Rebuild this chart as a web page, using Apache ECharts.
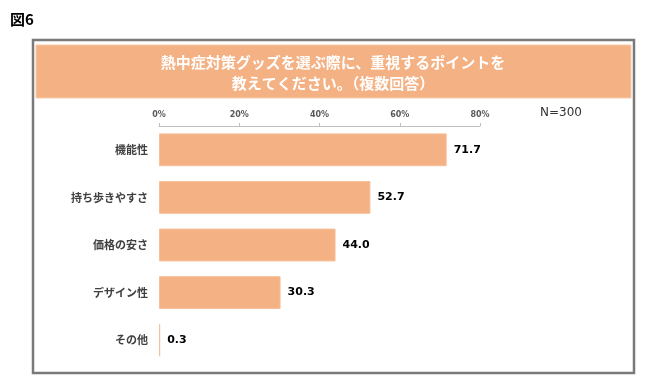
<!DOCTYPE html>
<html><head><meta charset="utf-8">
<script src="https://cdn.jsdelivr.net/npm/echarts@6/dist/echarts.min.js"></script>
<style>html,body{margin:0;padding:0;background:#fff}#c{width:665px;height:389px}</style>
</head><body><div id="c"></div>
<script>
var categories = ['機能性', '持ち歩きやすさ', '価格の安さ', 'デザイン性', 'その他'];
var values = [71.7, 52.7, 44.0, 30.3, 0.3];
var tickLabels = ['0%', '20%', '40%', '60%', '80%'];
var titleLines = ['熱中症対策グッズを選ぶ際に、重視するポイントを', '教えてください。（複数回答）'];
var figLabel = '図6';
var nLabel = 'N=300';

var FONT = '"Noto Sans CJK JP", "Noto Sans", sans-serif';
var NUMFONT = '"DejaVu Sans", Verdana, sans-serif';
var ORANGE = '#F4B183';
var chart = echarts.init(document.getElementById('c'), null, {renderer: 'canvas'});
chart.setOption({
  animation: false,
  backgroundColor: '#fff',
  graphic: [
    {type: 'rect', shape: {x: 33, y: 40, width: 601, height: 333}, style: {fill: 'none', stroke: '#7a7a7a', lineWidth: 2.5}, z: 1},
    {type: 'rect', shape: {x: 36, y: 45, width: 595, height: 53}, style: {fill: ORANGE, stroke: '#f8cba8', lineWidth: 1}, z: 1},
    {type: 'text', x: 333, y: 62, style: {text: titleLines[0], fill: '#fff', font: 'bold 15px ' + FONT, textAlign: 'center', textVerticalAlign: 'middle'}, z: 2},
    {type: 'text', x: 333, y: 83, style: {text: titleLines[1], fill: '#fff', font: 'bold 15px ' + FONT, textAlign: 'center', textVerticalAlign: 'middle'}, z: 2},
    {type: 'text', x: 10, y: 19, style: {text: figLabel, fill: '#000', font: 'bold 15px ' + FONT, textAlign: 'left', textVerticalAlign: 'middle'}, z: 2},
    {type: 'text', x: 540, y: 113, style: {text: nLabel, fill: '#333', font: '12px ' + NUMFONT, textAlign: 'left', textVerticalAlign: 'middle'}, z: 2}
  ],
  grid: {left: 159, right: 185, top: 126, bottom: 25, containLabel: false},
  xAxis: {
    type: 'value', position: 'top', min: 0, max: 80, interval: 20,
    axisLine: {show: true, lineStyle: {color: '#bfbfbf', width: 1}},
    axisTick: {show: true, length: 3, lineStyle: {color: '#bfbfbf'}},
    splitLine: {show: false},
    axisLabel: {
      margin: 7, color: '#595959', fontSize: 8, fontWeight: 'bold', fontFamily: NUMFONT,
      formatter: function (v) { return tickLabels[Math.round(v / 20)]; }
    }
  },
  yAxis: {
    type: 'category', data: categories, inverse: true,
    axisLine: {show: false}, axisTick: {show: false},
    axisLabel: {margin: 11, color: '#404040', fontSize: 11, fontWeight: 'bold', fontFamily: FONT}
  },
  series: [{
    type: 'bar', data: values, barCategoryGap: '31%',
    itemStyle: {color: ORANGE, borderColor: '#f6c09a', borderWidth: 1},
    label: {
      show: true, position: 'right', distance: 7, color: '#000', fontSize: 11, fontWeight: 'bold', fontFamily: NUMFONT,
      formatter: function (p) { return p.value.toFixed(1); }
    }
  }]
});
</script></body></html>
